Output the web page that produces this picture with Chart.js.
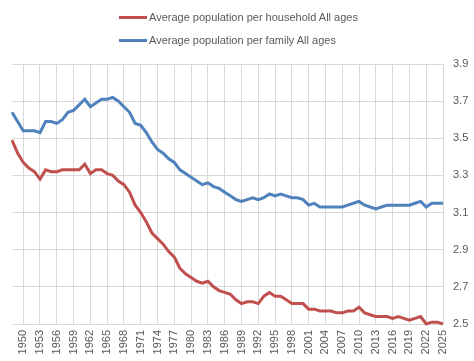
<!DOCTYPE html>
<html>
<head>
<meta charset="utf-8">
<script src="https://cdn.jsdelivr.net/npm/chart.js@4"></script>
<style>
  html, body { margin: 0; padding: 0; background: #fff; }
  #wrap { position: relative; width: 474px; height: 361px; }
  #legend {
    position: absolute; left: 119px; top: 9px;
    font: 11px "Liberation Sans", Arial, sans-serif; color: #595959;
  }
  .item { display: flex; align-items: center; height: 16px; margin-bottom: 7px; }
  .swatch { width: 28px; height: 3px; margin-right: 2px; }
</style>
</head>
<body>
<div id="wrap">
  <canvas id="chart" width="474" height="361"></canvas>
  <div id="legend"></div>
</div>
<script>
// Years on the category axis
const years = [
  1948, 1949, 1950, 1951, 1952, 1953, 1954, 1955, 1956, 1957,
  1958, 1959, 1960, 1961, 1962, 1963, 1964, 1965, 1966, 1967,
  1968, 1969, 1970, 1971, 1972, 1973, 1974, 1975, 1976, 1977,
  1978, 1979, 1980, 1981, 1982, 1983, 1984, 1985, 1986, 1987,
  1988, 1989, 1990, 1991, 1992, 1993, 1994, 1995, 1996, 1997,
  1998, 1999, 2000, 2001, 2002, 2003, 2004, 2005, 2006, 2007,
  2008, 2009, 2010, 2011, 2012, 2013, 2014, 2015, 2016, 2017,
  2018, 2019, 2020, 2021, 2022, 2023, 2024, 2025
];

// Average population per household
const householdSize = [
  3.49, 3.42, 3.37, 3.34, 3.32, 3.28, 3.33, 3.32, 3.32, 3.33,
  3.33, 3.33, 3.33, 3.36, 3.31, 3.33, 3.33, 3.31, 3.30, 3.27,
  3.25, 3.21, 3.14, 3.10, 3.05, 2.99, 2.96, 2.93, 2.89, 2.86,
  2.80, 2.77, 2.75, 2.73, 2.72, 2.73, 2.70, 2.68, 2.67, 2.66,
  2.63, 2.61, 2.62, 2.62, 2.61, 2.65, 2.67, 2.65, 2.65, 2.63,
  2.61, 2.61, 2.61, 2.58, 2.58, 2.57, 2.57, 2.57, 2.56, 2.56,
  2.57, 2.57, 2.59, 2.56, 2.55, 2.54, 2.54, 2.54, 2.53, 2.54,
  2.53, 2.52, 2.53, 2.54, 2.50, 2.51, 2.51, 2.50
];

// Average population per family
const familySize = [
  3.64, 3.59, 3.54, 3.54, 3.54, 3.53, 3.59, 3.59, 3.58, 3.60,
  3.64, 3.65, 3.68, 3.71, 3.67, 3.69, 3.71, 3.71, 3.72, 3.70,
  3.67, 3.64, 3.58, 3.57, 3.53, 3.48, 3.44, 3.42, 3.39, 3.37,
  3.33, 3.31, 3.29, 3.27, 3.25, 3.26, 3.24, 3.23, 3.21, 3.19,
  3.17, 3.16, 3.17, 3.18, 3.17, 3.18, 3.20, 3.19, 3.20, 3.19,
  3.18, 3.18, 3.17, 3.14, 3.15, 3.13, 3.13, 3.13, 3.13, 3.13,
  3.14, 3.15, 3.16, 3.14, 3.13, 3.12, 3.13, 3.14, 3.14, 3.14,
  3.14, 3.14, 3.15, 3.16, 3.13, 3.15, 3.15, 3.15
];

// Tick labels
const xTickYears = [
  1950, 1953, 1956, 1959, 1962, 1965, 1968, 1971, 1974, 1977,
  1980, 1983, 1986, 1989, 1992, 1995, 1998, 2001, 2004, 2007,
  2010, 2013, 2016, 2019, 2022, 2025
];
const yTickValues = [2.5, 2.7, 2.9, 3.1, 3.3, 3.5, 3.7, 3.9];

const seriesLabels = ['Average population per household All ages', 'Average population per family All ages'];
const seriesColors = ['#C0504D', '#4F81BD'];

const toPoints = arr => arr.map((v, i) => ({ x: years[i], y: v }));

const font = { family: '"Liberation Sans", Arial, sans-serif', size: 11 };
const gridColor = '#D9D9D9';

const chart = new Chart(document.getElementById('chart'), {
  type: 'line',
  data: {
    datasets: [householdSize, familySize].map((arr, i) => ({
      label: seriesLabels[i],
      data: toPoints(arr),
      borderColor: seriesColors[i],
      backgroundColor: seriesColors[i],
      borderWidth: 3,
      pointRadius: 0,
      tension: 0,
      clip: 4
    }))
  },
  options: {
    responsive: false,
    animation: false,
    layout: { padding: { top: 64, left: 12, right: 0, bottom: 0 } },
    plugins: {
      legend: { display: false },
      tooltip: { enabled: false }
    },
    scales: {
      x: {
        type: 'linear',
        min: years[0],
        max: years[years.length - 1],
        afterBuildTicks: scale => { scale.ticks = xTickYears.map(v => ({ value: v })); },
        afterFit: scale => { scale.height = 37; },
        grid: { color: gridColor, drawTicks: false },
        border: { display: false },
        ticks: {
          color: '#595959', font: font, padding: 6,
          minRotation: 90, maxRotation: 90, autoSkip: false,
          callback: v => String(v)
        }
      },
      y: {
        position: 'right',
        min: yTickValues[0],
        max: yTickValues[yTickValues.length - 1],
        afterBuildTicks: scale => { scale.ticks = yTickValues.map(v => ({ value: v })); },
        afterFit: scale => { scale.width = 31; },
        grid: { color: gridColor, drawTicks: false },
        border: { display: false },
        ticks: {
          color: '#595959', font: font, padding: 10,
          callback: v => v.toFixed(1)
        }
      }
    }
  }
});

// HTML legend, stacked like the original
const legend = document.getElementById('legend');
chart.data.datasets.forEach(ds => {
  const item = document.createElement('div');
  item.className = 'item';
  const sw = document.createElement('span');
  sw.className = 'swatch';
  sw.style.background = ds.borderColor;
  const txt = document.createElement('span');
  txt.textContent = ds.label;
  item.appendChild(sw);
  item.appendChild(txt);
  legend.appendChild(item);
});
</script>
</body>
</html>
